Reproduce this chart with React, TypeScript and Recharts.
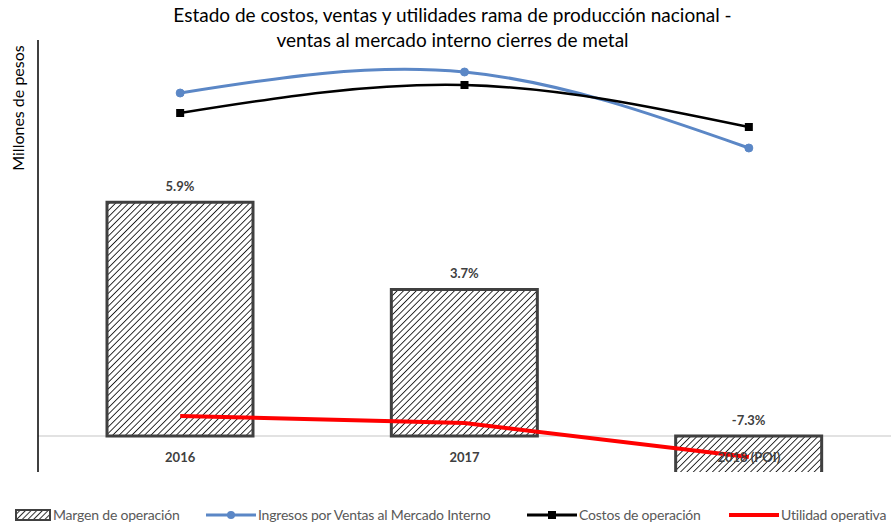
import {
  ComposedChart,
  Bar,
  Line,
  XAxis,
  YAxis,
  CartesianGrid,
  LabelList,
} from "recharts";

// categories and series
const years = ["2016", "2017", "2018 (POI)"];
const margen = [5.9, 3.7, -7.3]; // % margen de operación
const ingresos = [343, 364, 288]; // millones de pesos (escala relativa)
const costos = [323, 351, 309];
const utilidad = [20, 13, -21];

const PCT_DOMAIN = [-0.91, 10];
const MXN_DOMAIN = [-36, 396];

const data = years.map((year, i) => ({
  year,
  margen: margen[i],
  ingresos: ingresos[i],
  costos: costos[i],
  utilidad: utilidad[i],
}));

const FONT = "Lato, 'Open Sans', sans-serif";
const BLUE = "#5b87c6";
const RED = "#ff0000";
const GREY = "#404040";

function BarLabel(props: any) {
  const { x, y, width, height, value } = props;
  const top = Math.min(y, y + height);
  return (
    <text
      x={x + width / 2}
      y={top - 11}
      textAnchor="middle"
      fontFamily={FONT}
      fontSize={13}
      fontWeight={700}
      fill={GREY}
    >
      {`${Number(value).toFixed(1)}%`}
    </text>
  );
}

function YearTick(props: any) {
  const { x, y, payload } = props;
  return (
    <text
      x={x}
      y={y - 18}
      textAnchor="middle"
      fontFamily={FONT}
      fontSize={13}
      fontWeight={700}
      fill={GREY}
    >
      {payload.value}
    </text>
  );
}

function SquareDot(props: any) {
  const { cx, cy } = props;
  if (cx == null || cy == null) return null;
  return <rect x={cx - 4} y={cy - 4} width={8} height={8} fill="#000" />;
}

function LegendSwatch({ kind }: { kind: string }) {
  if (kind === "bar") {
    return (
      <svg width={36} height={12} style={{ marginRight: 2 }}>
        <defs>
          <pattern
            id="hatchLegend"
            patternUnits="userSpaceOnUse"
            width={4}
            height={4}
            patternTransform="rotate(45)"
          >
            <rect width={4} height={4} fill="#fff" />
            <line x1={0} y1={0} x2={0} y2={4} stroke="#000" strokeWidth={1.6} />
          </pattern>
        </defs>
        <rect x={1} y={1} width={34} height={10} fill="url(#hatchLegend)" stroke={GREY} strokeWidth={2} />
      </svg>
    );
  }
  const color = kind === "ingresos" ? BLUE : kind === "costos" ? "#000" : RED;
  return (
    <svg width={50} height={12} style={{ marginRight: 2 }}>
      <line x1={0} y1={6} x2={50} y2={6} stroke={color} strokeWidth={kind === "utilidad" ? 4 : 3} />
      {kind === "ingresos" && <circle cx={25} cy={6} r={4} fill={color} />}
      {kind === "costos" && <rect x={21} y={2} width={8} height={8} fill={color} />}
    </svg>
  );
}

const legendItems = [
  { kind: "bar", label: "Margen de operación", left: 15 },
  { kind: "ingresos", label: "Ingresos por Ventas al Mercado Interno", left: 206 },
  { kind: "costos", label: "Costos de operación", left: 527 },
  { kind: "utilidad", label: "Utilidad operativa", left: 729 },
];

// zero line of the percentage axis, drawn under the bars
const zeroLine = (props: any) => {
  const yAxis = props.yAxis;
  if (yAxis && typeof yAxis.scale === "function") return [yAxis.scale(0)];
  const { top, height } = props.offset;
  return [top + (height * PCT_DOMAIN[1]) / (PCT_DOMAIN[1] - PCT_DOMAIN[0])];
};

export default function App() {
  return (
    <div style={{ position: "relative", width: 891, height: 527, background: "#fff", fontFamily: FONT }}>
      <style>{"body{margin:0}"}</style>
      <div
        style={{
          position: "absolute",
          top: 2,
          left: 0,
          width: 905,
          textAlign: "center",
          fontSize: 19,
          lineHeight: "25px",
          color: "#000",
        }}
      >
        Estado de costos, ventas y utilidades rama de producción nacional -
        <br />
        ventas al mercado interno cierres de metal
      </div>
      <div
        style={{
          position: "absolute",
          left: 17,
          top: 108,
          transform: "translate(-50%, -50%) rotate(-90deg)",
          fontSize: 16,
          whiteSpace: "nowrap",
          color: "#000",
        }}
      >
        Millones de pesos
      </div>
      <div style={{ position: "absolute", top: 0, left: 0 }}>
        <ComposedChart
          width={891}
          height={500}
          data={data}
          margin={{ top: 40, right: 0, bottom: 8, left: 0 }}
          barCategoryGap={0}
        >
          <defs>
            <pattern
              id="hatch"
              patternUnits="userSpaceOnUse"
              width={4.5}
              height={4.5}
              patternTransform="rotate(45)"
            >
              <rect width={4.5} height={4.5} fill="#fff" />
              <line x1={0} y1={0} x2={0} y2={4.5} stroke="#000" strokeWidth={1.6} />
            </pattern>
          </defs>
          <CartesianGrid
            yAxisId="pct"
            vertical={false}
            horizontalCoordinatesGenerator={zeroLine}
            stroke="#d9d9d9"
            strokeWidth={1.5}
          />
          <XAxis
            dataKey="year"
            height={20}
            axisLine={false}
            tickLine={false}
            tick={<YearTick />}
            interval={0}
          />
          <YAxis
            yAxisId="pct"
            width={38}
            domain={PCT_DOMAIN}
            allowDataOverflow
            tick={false}
            tickLine={false}
            axisLine={{ stroke: "#000", strokeWidth: 1.5 }}
          />
          <YAxis
            yAxisId="mxn"
            orientation="right"
            hide
            domain={MXN_DOMAIN}
            allowDataOverflow
          />
          <Bar
            yAxisId="pct"
            dataKey="margen"
            barSize={146}
            fill="url(#hatch)"
            stroke={GREY}
            strokeWidth={3}
            isAnimationActive={false}
          >
            <LabelList dataKey="margen" content={<BarLabel />} />
          </Bar>
          <Line
            yAxisId="mxn"
            type="natural"
            dataKey="ingresos"
            stroke={BLUE}
            strokeWidth={3}
            dot={{ r: 4, fill: BLUE, stroke: BLUE, strokeWidth: 1 }}
            activeDot={false}
            isAnimationActive={false}
          />
          <Line
            yAxisId="mxn"
            type="natural"
            dataKey="costos"
            stroke="#000"
            strokeWidth={2.5}
            dot={<SquareDot />}
            activeDot={false}
            isAnimationActive={false}
          />
          <Line
            yAxisId="mxn"
            type="linear"
            dataKey="utilidad"
            stroke={RED}
            strokeWidth={4}
            dot={false}
            activeDot={false}
            isAnimationActive={false}
          />
        </ComposedChart>
      </div>
      {legendItems.map((item) => (
        <div
          key={item.label}
          style={{
            position: "absolute",
            top: 506,
            left: item.left,
            display: "flex",
            alignItems: "center",
            fontSize: 14,
            letterSpacing: -0.2,
            color: "#595959",
            whiteSpace: "nowrap",
          }}
        >
          <LegendSwatch kind={item.kind} />
          {item.label}
        </div>
      ))}
    </div>
  );
}
